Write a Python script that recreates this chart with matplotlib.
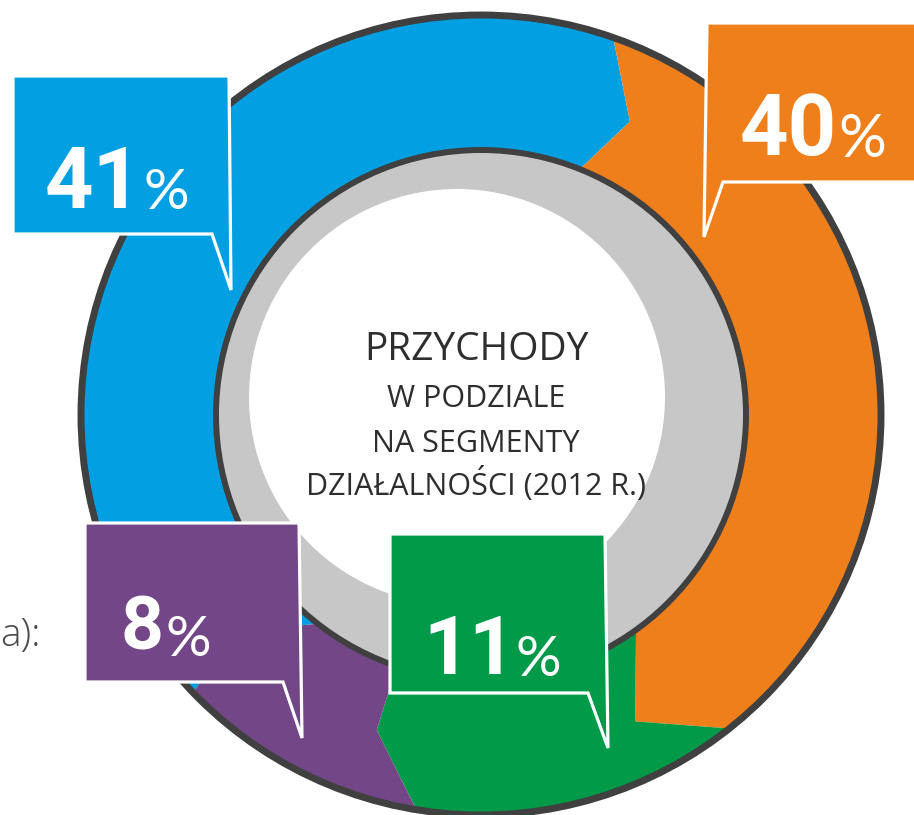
"""
przychody_donut.py
Revenue split by business segment (2012) drawn as an infographic ring:
arrow-shaped segments, a grey inner disc with the title and callout boxes.
"""

import numpy as np
import matplotlib.pyplot as plt
from matplotlib.patches import Polygon, Circle

# ======================================================================
# Data
# ======================================================================
segment_colors = ["#02A0E2", "#EE7F1B", "#009A48", "#734687"]
share_pct = [41, 40, 11, 8]                  # printed in the callouts
arc_deg = [153.3, 122.3, 47.7, 36.7]         # arc length of each segment as drawn
center_lines = ["PRZYCHODY", "W PODZIALE", "NA SEGMENTY", "DZIAŁALNOŚCI (2012 R.)"]

# ======================================================================
# Layout (pixels, origin top-left)
# ======================================================================
W, H = 914, 815
CX, CY = 481, 415
R_OUT, R_IN = 400, 265
START = 224.0            # outer-edge angle where the first segment starts
RING_LINE = "#404040"
GREY = "#C7C7C7"

# arrow head of each segment: (inner angle offset, tip angle offset, tip radius)
HEADS = [(-2.6, -7.6, 329), (-2.6, -11.7, 343), (-9.3, -9.0, 332), (8.0, -3.0, 330)]

# callout boxes: left, top, right, bottom, tail base x, tail tip
CALLOUTS = [
    (13, 76, 229, 234, 212, (231, 290)),
    (707, 23, 940, 182, 723, (704, 237)),
    (390, 534, 605, 693, 588, (608, 748)),
    (85, 523, 299, 682, 283, (302, 738)),
]
# digits x, baseline, "%" x, baseline, digit size, "%" size (pt)
LABELS = [
    (45, 208, 144, 209, 61, 41),
    (740, 155, 838, 157, 61, 43),
    (423, 674, 515, 676, 58, 41),
    (120, 650, 166, 656, 54, 41),
]


def pt(angle, r):
    a = np.deg2rad(angle)
    return CX + r * np.cos(a), CY - r * np.sin(a)


fig = plt.figure(figsize=(W / 100, H / 100), dpi=100)
ax = fig.add_axes([0, 0, 1, 1])
ax.set_xlim(0, W)
ax.set_ylim(H, 0)
ax.axis("off")

# -- inner disc ----------------------------------------------------
ax.add_patch(Circle((CX, CY), R_IN, fc=GREY, ec="none", zorder=1))
ax.add_patch(Circle((457, 397), 208, fc="white", ec="none", zorder=2))

# -- ring segments -------------------------------------------------
ends = START - np.cumsum(arc_deg)
heads = []
for end, (d_in, d_tip, r_tip) in zip(ends, HEADS):
    heads.append((end, end + d_tip, r_tip, end + d_in))

for i, color in enumerate(segment_colors):
    t_out, t_tip, t_rtip, t_in = heads[i - 1]
    if i == 0:
        t_out, t_tip, t_in = t_out + 360, t_tip + 360, t_in + 360
    h_out, h_tip, h_rtip, h_in = heads[i]
    verts = [pt(a, R_OUT) for a in np.linspace(t_out, h_out, 120)]
    verts.append(pt(h_tip, h_rtip))
    verts += [pt(a, R_IN) for a in np.linspace(h_in, t_in, 120)]
    verts.append(pt(t_tip, t_rtip))
    ax.add_patch(Polygon(verts, closed=True, fc=color, ec="none", zorder=3))

ax.add_patch(Circle((CX, CY), R_OUT, fill=False, ec=RING_LINE, lw=5, zorder=4))
ax.add_patch(Circle((CX, CY), R_IN, fill=False, ec=RING_LINE, lw=4.3, zorder=4))

# -- centre title --------------------------------------------------
title_y = [360, 407, 452, 495]
title_size = [28, 22, 22, 22]
for text, y, size in zip(center_lines, title_y, title_size):
    ax.text(476, y, text, ha="center", va="baseline", fontsize=size,
            family="Open Sans", color="#2E2E2E", zorder=6)

# -- callouts ------------------------------------------------------
for color, pct, box, lab in zip(segment_colors, share_pct, CALLOUTS, LABELS):
    left, top, right, bottom, base_x, tip = box
    if tip[0] > (left + right) / 2:
        verts = [(left, top), (right, top), tip, (base_x, bottom), (left, bottom)]
    else:
        verts = [(left, top), (right, top), (right, bottom), (base_x, bottom), tip]
    ax.add_patch(Polygon(verts, closed=True, fc=color, ec="white", lw=2.3,
                         joinstyle="miter", zorder=5))
    dx, dy, px, py, dsize, psize = lab
    ax.text(dx, dy, str(pct), ha="left", va="baseline", fontsize=dsize,
            family="Roboto", weight="bold", color="white", zorder=6)
    ax.text(px, py, "%", ha="left", va="baseline", fontsize=psize,
            family="Lato", weight="normal", color="white", zorder=6)

# cropped caption fragment on the left edge
ax.text(41, 646, "a):", ha="right", va="baseline", fontsize=28,
        family="Open Sans", weight="light", color="#4A4A4A", zorder=6)

fig.savefig("out.png", dpi=100)
